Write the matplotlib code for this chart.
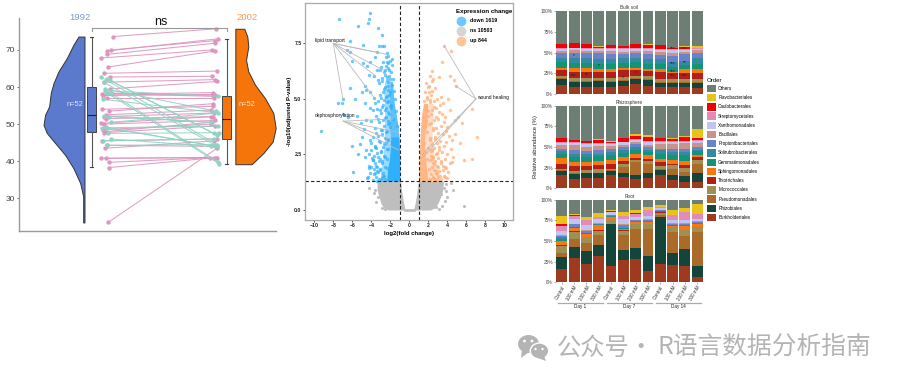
import numpy as np
import matplotlib
matplotlib.use("Agg")
import matplotlib.pyplot as plt
from matplotlib.patches import Ellipse, Patch, Polygon
from matplotlib.lines import Line2D

plt.rcParams["font.family"] = ["Liberation Sans", "DejaVu Sans"]

W, H = 900, 383

# ---- paired raincloud data
left_dens_y = [73.6, 71.4, 67.8, 64.2, 61.0, 58.4, 54.8, 52.5, 49.8, 47.6, 44.9, 41.7, 38.1, 34.1, 30.5, 23.5]
left_dens_w = [0.056, 0.103, 0.165, 0.243, 0.290, 0.315, 0.330, 0.368, 0.383, 0.352, 0.274, 0.181, 0.103, 0.040, 0.012, 0.012]
right_dens_y = [75.7, 73.6, 70.9, 67.3, 64.2, 60.6, 57.0, 53.0, 48.9, 45.3, 42.2, 39.2]
right_dens_w = [0.084, 0.112, 0.121, 0.100, 0.121, 0.184, 0.277, 0.355, 0.377, 0.349, 0.262, 0.153]

pink_x1 = [1.05, 1.03, 0.99, 0.99, 0.93, 1.00, 0.96, 1.02, 0.96, 1.02, 0.94, 0.95, 0.99, 1.04, 0.99, 0.94, 1.01,
           0.98, 0.96, 0.98, 0.93, 0.96, 0.95, 0.98, 0.96, 0.94, 0.97, 0.99, 0.93, 0.98, 1.01, 1.01, 1.00]
pink_y1 = [73.6, 70.0, 69.7, 68.8, 67.8, 65.4, 63.7, 62.7, 61.3, 59.5, 58.0, 57.7, 58.4, 58.2, 57.0, 54.0, 53.5,
           52.5, 52.0, 51.5, 50.2, 50.0, 48.5, 48.0, 47.7, 45.5, 43.5, 44.3, 40.8, 40.8, 39.7, 38.3, 23.5]
pink_x2 = [2.01, 2.00, 2.03, 2.00, 1.97, 2.00, 2.02, 1.97, 2.00, 2.02, 1.98, 1.98, 2.00, 1.98, 1.99, 1.98, 1.98,
           1.96, 1.99, 1.98, 1.96, 2.00, 1.96, 1.97, 2.00, 2.02, 1.99, 2.00, 2.02, 1.95, 1.99, 2.01, 2.02]
pink_y2 = [75.7, 72.5, 73.0, 71.8, 70.0, 69.7, 64.3, 62.9, 62.0, 61.5, 58.5, 58.0, 57.8, 57.5, 57.0, 54.8, 55.5,
           53.8, 53.0, 52.0, 52.0, 51.0, 50.0, 50.5, 49.5, 46.0, 45.5, 44.0, 41.0, 41.0, 41.0, 41.0, 43.5]

green_x1 = [0.93, 0.99, 1.02, 0.96, 0.97, 0.97, 0.99, 1.03, 0.95, 1.03, 0.94, 0.98, 0.99, 1.00, 1.03, 0.95, 0.99, 1.01, 0.96]
green_y1 = [62.8, 62.2, 61.8, 61.3, 59.5, 59.0, 58.5, 58.3, 56.7, 50.5, 49.0, 49.2, 49.0, 47.5, 46.0, 45.5, 44.3, 52.0, 52.3]
green_x2 = [2.02, 2.02, 1.99, 2.02, 2.01, 2.03, 2.04, 2.03, 1.98, 2.03, 2.03, 2.01, 2.02, 2.04, 1.96, 1.99, 1.99, 1.97, 1.96]
green_y2 = [44.5, 47.0, 47.5, 44.0, 53.5, 57.5, 39.3, 39.8, 53.2, 53.0, 49.5, 44.0, 44.0, 47.7, 44.0, 46.0, 44.5, 50.5, 50.5]

# ---- volcano data
down_x = [-7.4, -4.1, -4.25, -5.4, -4.4, -3.3, -2.85, -6.25, -4.85, -3.15, -2.85, -2.65, -6.6, -6.25, -3.45, -2.4, -3.6,
          -4.15, -6.0, -4.85, -4.5, -2.75, -2.4, -1.85, -3.1, -3.45, -2.55, -3.7, -4.3, -3.25, -6.25, -4.65, -4.6, -5.0,
          -4.15, -3.7, -5.7, -6.95, -7.55, -7.05, -4.65, -3.6, -4.15, -3.8, -6.95, -5.55, -6.5, -9.3, -4.6, -4.0, -5.1,
          -4.8, -5.0, -6.0, -5.2, -4.1, -5.4, -5.9, -4.0, -4.6, -3.6, -4.2, -4.65, -3.8, -3.4, -4.0, -3.6, -4.1,
          -2.5, -2.2, -3.0, -2.7, -2.1, -2.4, -2.9, -3.2, -2.2, -2.6, -2.0, -2.3, -2.8, -3.1, -2.5, -2.1, -2.7, -3.3,
          -2.4, -2.0, -2.9, -3.4, -2.6, -2.2, -1.9, -3.0, -3.5, -2.5, -2.8, -2.3, -3.2, -2.7, -2.1, -3.6, -3.0, -2.4,
          -2.9, -3.3, -2.6, -2.2, -3.8, -3.1, -2.5, -2.8, -3.5, -2.3, -3.0, -3.4, -2.7, -3.9, -2.4, -3.2, -2.9, -3.6,
          -2.6, -3.1, -4.3, -3.7, -3.3, -2.8, -3.5, -2.9, -3.2, -2.6, -4.4, -3.8, -3.0, -3.4, -2.7, -2.4, -3.1, -3.7,
          -2.3, -2.0, -1.8, -2.5, -2.2, -1.9, -2.6, -2.1, -1.7, -2.4, -2.9, -1.8, -2.2, -2.7, -1.6, -2.0, -2.4, -3.0,
          -1.5, -2.3, -2.8, -1.9, -2.5, -3.1, -1.4, -2.1, -2.6, -1.7, -3.3, -2.3, -1.3, -2.0, -2.9, -2.5, -3.5, -1.5,
          -2.2, -3.2, -2.7, -3.6, -2.4, -4.0, -3.0, -2.6, -3.3, -3.8, -2.9, -3.5, -4.2, -3.1, -3.7, -2.8, -4.5, -3.4]
down_y = [8.6, 8.85, 8.6, 8.3, 8.4, 8.2, 7.9, 7.6, 7.45, 7.4, 7.4, 7.4, 7.2, 7.1, 7.1, 7.05, 6.9,
          6.65, 6.7, 6.6, 6.5, 6.65, 6.65, 6.8, 6.3, 6.3, 6.3, 6.05, 6.1, 5.85, 5.5, 5.6, 5.4, 5.3,
          5.3, 5.05, 5.0, 5.0, 4.8, 4.8, 4.8, 4.8, 4.6, 4.5, 4.3, 4.25, 4.2, 3.55, 4.05, 4.0, 3.9,
          3.65, 3.3, 2.9, 2.95, 3.15, 2.5, 1.7, 3.0, 2.7, 2.85, 2.5, 2.4, 2.25, 1.95, 1.95, 1.65, 1.65,
          6.9, 6.6, 6.45, 6.2, 6.3, 6.0, 5.95, 5.7, 5.75, 5.55, 5.9, 5.4, 5.3, 5.2, 5.1, 5.2, 4.95, 4.9,
          4.85, 4.7, 4.65, 4.55, 4.5, 4.4, 4.6, 4.35, 4.25, 4.2, 4.05, 4.0, 3.95, 3.8, 3.9, 3.7, 3.6, 3.55,
          3.4, 3.35, 3.25, 3.2, 3.3, 3.05, 3.0, 2.85, 2.8, 2.75, 2.6, 2.55, 2.45, 2.35, 2.3, 2.2, 2.1, 2.1,
          1.95, 1.85, 2.0, 1.85, 1.7, 1.65, 1.5, 1.45, 1.4, 1.4, 1.5, 1.35, 1.35, 1.75, 1.55, 1.9, 2.3, 2.45,
          6.95, 6.7, 6.55, 6.5, 6.4, 6.2, 6.1, 6.05, 5.9, 5.85, 5.8, 5.65, 5.6, 5.45, 5.35, 5.3, 5.15, 5.05,
          5.0, 4.9, 4.75, 4.75, 4.6, 4.5, 4.45, 4.3, 4.15, 4.1, 4.1, 3.85, 3.8, 3.75, 3.6, 3.5, 3.45, 3.15,
          3.15, 3.1, 2.95, 2.9, 2.75, 2.7, 2.65, 2.4, 2.4, 2.25, 2.2, 2.0, 1.9, 1.8, 1.6, 1.55, 1.45, 1.3]
up_x = [3.65, 4.35, 3.4, 4.3, 4.7, 4.9, 3.1, 2.35, 2.2, 2.4, 2.0, 6.55, 7.15, 6.6, 5.5, 4.8, 4.1, 3.3, 3.5, 4.3,
        5.15, 4.8, 3.75, 4.45, 5.3, 5.7, 4.6, 4.3, 3.75, 2.5, 2.1, 2.7, 2.3, 1.9, 2.9, 2.6, 3.2, 2.2, 1.7, 2.8,
        3.1, 2.4, 3.4, 2.0, 3.0, 3.6, 2.6, 2.3, 4.0, 3.3, 2.8, 3.8, 2.5, 3.0, 4.2, 3.5, 2.7, 2.2, 3.2, 3.9,
        2.9, 2.4, 3.6, 2.6, 4.4, 3.1, 2.3, 3.4, 2.8, 4.0, 2.5, 3.0, 3.7, 2.2, 2.7, 4.5, 3.3, 2.9, 3.8, 2.4,
        3.5, 2.6, 3.1, 4.1, 2.8, 2.3, 3.6, 3.0, 2.5, 3.3, 2.7, 2.2, 3.0, 2.5, 2.9, 2.4,
        1.8, 2.1, 1.6, 2.4, 1.9, 2.2, 1.5, 2.6, 1.7, 2.0, 2.3, 1.4, 2.8, 1.8, 2.1, 1.6, 2.5, 1.9, 2.7, 2.2,
        1.5, 3.1, 2.0, 2.4, 1.7, 2.9, 2.3, 3.3, 1.9, 2.6, 3.5, 2.1, 2.8, 3.2, 2.5, 3.7, 2.2, 3.0, 4.0, 2.7]
up_y = [7.4, 7.15, 6.65, 6.05, 5.85, 5.6, 6.0, 6.25, 6.05, 5.8, 5.55, 4.55, 3.3, 2.3, 3.9, 3.4, 5.0, 5.1, 4.8, 4.5,
        4.2, 4.05, 4.2, 3.15, 3.0, 2.25, 2.4, 2.1, 1.95, 5.9, 5.3, 5.5, 5.2, 5.1, 5.0, 4.9, 4.75, 4.85, 4.7, 4.6,
        4.4, 4.5, 4.3, 4.25, 4.1, 3.95, 4.05, 3.9, 3.75, 3.8, 3.7, 3.55, 3.6, 3.45, 3.35, 3.4, 3.3, 3.25, 3.1, 3.05,
        3.0, 2.95, 2.9, 2.8, 2.75, 2.7, 2.65, 2.6, 2.5, 2.5, 2.4, 2.35, 2.3, 2.25, 2.2, 2.15, 2.1, 2.0, 1.9, 1.95,
        1.8, 1.8, 1.75, 1.7, 1.65, 1.6, 1.55, 1.5, 1.5, 1.4, 1.4, 1.35, 1.95, 2.1, 1.6, 2.3,
        5.7, 5.6, 5.3, 5.35, 5.0, 4.95, 4.9, 4.65, 4.55, 4.45, 4.3, 4.2, 4.2, 4.0, 3.85, 3.8, 3.7, 3.5, 3.2, 3.15,
        3.0, 2.85, 2.8, 2.7, 2.6, 2.55, 2.45, 2.2, 2.3, 2.05, 2.0, 1.85, 1.75, 1.55, 1.45, 1.5, 1.4, 1.35, 1.45, 1.3]
ns_x = [5.7, 4.6, 3.7, -4.2, -3.6, -3.3, 3.9, 4.0, 3.4, -3.5, -2.9, 3.1, 3.6, -3.2, 2.8, 3.3, -2.6, 4.4, -3.7, 3.8]
ns_y = [0.2, 0.9, 0.4, 1.0, 0.9, 0.6, 1.15, 0.6, 0.2, 0.35, 0.1, 0.05, 1.0, 1.2, 0.15, 0.7, 0.05, 1.2, 0.75, 0.85]

down_core_y = [1.3, 1.8, 2.3, 2.8, 3.3, 3.8, 4.3, 4.8, 5.3, 5.8]
down_core_l = [-2.4, -2.3, -2.1, -2.0, -2.0, -2.1, -2.0, -2.1, -2.1, -2.0]
down_core_r = [-1.0, -1.0, -1.0, -1.05, -1.1, -1.2, -1.4, -1.6, -1.7, -1.8]
down_halo_l = [-3.1, -3.0, -2.8, -2.7, -2.6, -2.6, -2.6, -2.6, -2.7, -2.6]
up_core_y = [1.3, 1.8, 2.3, 2.8, 3.3, 3.8, 4.3, 4.8]
up_core_l = [1.0, 1.0, 1.05, 1.1, 1.15, 1.2, 1.3, 1.5]
up_core_r = [2.0, 1.8, 1.7, 1.6, 1.6, 1.8, 1.9, 1.9]
up_halo_r = [3.1, 3.0, 2.7, 2.5, 2.4, 2.4, 2.5, 2.5]
ns_core_y = [0.0, 0.1, 0.3, 0.6, 0.9, 1.3]
ns_core_l = [-2.2, -2.7, -3.0, -3.2, -3.4, -3.4]
ns_core_r = [2.2, 2.7, 3.0, 3.3, 3.5, 3.6]
ns_hole_l = [-0.45, -0.5, -0.6, -0.72, -0.82, -0.95]
ns_hole_r = [0.45, 0.5, 0.6, 0.72, 0.82, 0.95]

lipid_to = [(-2.3, 7.0), (-3.45, 7.1), (-2.75, 6.3), (-3.6, 6.05), (-3.6, 5.0), (-7.0, 5.0)]
dephos_to = [(-1.7, 4.1), (-1.15, 3.5), (-1.85, 3.15), (-1.15, 2.7)]
wound_to = [(3.65, 7.4), (4.8, 5.6), (1.45, 2.55), (1.5, 2.4)]

# ---- stacked bars, upper edge of every order in each sample (%)
orders = ["Burkholderiales", "Rhizobiales", "Pseudomonadales", "Micrococcales", "Thiotrichales", "Sphingomonadales",
          "Gemmatimonadales", "Solirubrobacterales", "Propionibacteriales", "Bacillales", "Xanthomonadales",
          "Streptomycetales", "Caulobacterales", "Flavobacteriales", "Others"]
order_cols = ["#9E3B1E", "#15443A", "#A96A2A", "#A08F52", "#B0201A", "#FC760E", "#129479", "#348A9E", "#6882CC",
              "#C99488", "#C0C4F0", "#E08BB8", "#F00000", "#E8C31C", "#6D7F74"]
samples = ["Control", "100 mM", "200 mM", "300 mM"] * 3

bulk_tops = [
    [11, 8.5, 8.5, 9, 9, 10, 12.5, 10.5, 9, 8.5, 8.5, 8],
    [18, 15, 15, 15.5, 15, 16.5, 18.5, 17, 14, 14, 14, 14],
    [19, 16, 16, 17, 16, 17.5, 19.5, 18.5, 15, 15, 15, 15],
    [22, 19, 19, 19.5, 19, 21, 22, 21.5, 18, 18.5, 18, 18],
    [29, 27, 27, 27, 27, 29, 29, 28, 27, 26, 25, 25],
    [32, 32, 32, 30, 30, 32, 32, 30, 30, 27, 30, 30],
    [38.5, 38, 38, 36.5, 36, 38, 38.5, 36, 36, 33, 35, 36],
    [44, 44, 43, 42, 42, 43, 44, 42, 42, 39, 40, 44],
    [49, 50, 49, 49, 48, 48, 49, 48, 47, 46, 48, 50],
    [52, 53, 52, 52, 52, 51, 52, 52, 51, 50, 51, 53],
    [54.5, 55, 54.5, 54.5, 54, 54, 54.5, 54.5, 53, 53, 53, 54.5],
    [55.5, 56, 55.5, 55.5, 55, 55, 55.5, 55.5, 54, 54, 54, 55.5],
    [60, 61.5, 60, 57, 59, 58, 60, 59.5, 59, 56, 57, 56],
    [60, 61.5, 60, 58, 59, 58, 60.5, 60, 59, 56, 58, 58],
]
rhizo_tops = [
    [15.7, 11.7, 12.5, 12.5, 15.7, 13.7, 11.7, 12.5, 15.7, 10, 8, 8],
    [21, 17, 18, 18, 21, 18.5, 16, 19, 22, 16.5, 14.5, 18],
    [22, 18, 18.5, 19, 22, 26, 32, 30, 23, 23, 20, 29],
    [23, 21, 22, 23, 23, 29, 34, 33, 27, 28, 25, 34],
    [30, 27, 27.5, 28, 30, 33, 37, 36, 32, 30, 28, 38],
    [37, 32, 32, 33.5, 34, 37.5, 42, 40, 35, 34, 33, 40],
    [42, 38, 38, 39.5, 40, 43, 46, 44, 42, 40, 40, 45],
    [45.5, 41.5, 41.5, 42, 44, 46, 49.5, 46, 46, 44, 44, 46],
    [48, 46.5, 45.5, 46, 47, 50, 53.5, 50, 47.5, 47.5, 47.5, 50],
    [52, 52.5, 50.5, 51.5, 51.5, 53, 56.5, 52.5, 53.5, 53.5, 54.5, 55],
    [55, 54.5, 53.5, 54, 54, 55.5, 59, 56.5, 56.5, 56.5, 56.5, 57.5],
    [56, 55.5, 54.5, 55, 55, 56.5, 60, 57.5, 57.5, 57.5, 57.5, 58.5],
    [60.5, 58.5, 57, 58.5, 56.5, 60.5, 63.5, 62, 60.5, 60, 62, 61],
    [60.5, 58.5, 57, 60, 57, 61, 66, 64.5, 61.5, 61, 63.5, 72],
]
root_tops = [
    [16, 30, 22, 32, 20, 27, 28, 14, 22, 20.5, 20, 7],
    [31, 43, 38, 45.5, 70, 39.5, 41, 32, 79.5, 36, 40, 20],
    [36, 52, 48, 57, 71, 57, 64.5, 65, 82, 61, 56.5, 61],
    [44, 61, 54.5, 62.5, 75, 62.5, 70, 70.5, 84.5, 67, 63, 67],
    [45, 62, 55, 63, 76, 63, 71, 71, 85, 67.5, 63.5, 67.5],
    [50, 66, 59, 69, 79, 65, 73, 73, 85.5, 68.5, 68, 70],
    [52, 66.5, 59.5, 69.5, 79.5, 65.5, 73.5, 73.5, 86, 69, 68.5, 71],
    [55, 67, 60, 70, 80, 66, 74, 74, 86.5, 69.5, 69, 71.5],
    [56.5, 70, 62, 71, 81, 69, 75, 76, 87, 71, 71, 73],
    [57, 71, 63, 72, 81.5, 70, 75.5, 76.5, 87.5, 72, 72, 74],
    [62, 77, 69, 77, 85, 77, 79, 80, 90, 76, 75, 77],
    [68.5, 80.5, 75.5, 79, 85.5, 80, 83, 87, 91, 81.5, 85, 82.7],
    [70, 81, 76, 79.5, 86, 80.5, 83.5, 87.5, 91.5, 82, 85.5, 83],
    [80, 83, 79.5, 84, 87, 85.5, 87, 91, 93.5, 87, 89.5, 95],
]
star_bar = [1, 1, 2, 3, 5, 6, 9, 9, 9, 9, 10, 10, 10]
star_val = [47, 23, 24, 34, 20, 26, 55, 37, 27, 23, 55, 38, 23]
star_txt = ["*", "***", "**", "*", "*", "*", "***", "***", "***", "***", "***", "**", "***"]


def px_axes(l, t, r, b):
    return fig.add_axes([l / W, 1 - b / H, (r - l) / W, (b - t) / H])


fig = plt.figure(figsize=(W / 100, H / 100), dpi=100)

# ---- raincloud
ax = px_axes(19, 18, 276, 231)
ax.set_xlim(0.168, 2.57)
ax.set_ylim(21.2, 78.6)
ax.patch.set_alpha(0)
base1, base2 = 0.78, 2.19
ax.fill_betweenx(left_dens_y, base1 - np.array(left_dens_w), base1, color="#5C7ACD", ec="#333333", lw=0.7)
ax.fill_betweenx(right_dens_y, base2, base2 + np.array(right_dens_w), color="#F5750A", ec="#333333", lw=0.7)

for i in range(len(pink_y1)):
    ax.plot([pink_x1[i], pink_x2[i]], [pink_y1[i], pink_y2[i]], "-o", color="#DE93BF", lw=0.75, ms=2.2, alpha=0.9)
for i in range(len(green_y1)):
    ax.plot([green_x1[i], green_x2[i]], [green_y1[i], green_y2[i]], "-o", color="#8FD3C1", lw=0.75, ms=2.2, alpha=0.9)

stats1 = dict(med=52.5, q1=48, q3=60, whislo=38.4, whishi=73.6, fliers=[])
stats2 = dict(med=51.3, q1=46, q3=57.6, whislo=39.2, whishi=73.0, fliers=[])
for st, pos, col in [(stats1, 0.848, "#5C7ACD"), (stats2, 2.109, "#F5750A")]:
    ax.bxp([st], positions=[pos], widths=[0.08], patch_artist=True, manage_ticks=False,
           boxprops=dict(facecolor=col, edgecolor="#444444", lw=0.7),
           medianprops=dict(color="#222222", lw=0.8),
           whiskerprops=dict(color="#555555", lw=0.8), capprops=dict(color="#444444", lw=0.8), capwidths=[0.03])

ax.plot([0.848, 0.848, 2.109, 2.109], [75, 76, 76, 75], color="#999999", lw=0.8)
ax.text(1.49, 75.8, "ns", ha="center", va="bottom", fontsize=9, color="#111111", clip_on=False)
ax.text(0.74, 78.6, "1992", ha="center", va="center", fontsize=6.8, color="#7D97D8", clip_on=False)
ax.text(2.3, 78.6, "2002", ha="center", va="center", fontsize=6.8, color="#F59A50", clip_on=False)
ax.text(0.69, 55.4, "n=52", ha="center", va="center", fontsize=5.4, color="#DDE4F5")
ax.text(2.3, 55.4, "n=52", ha="center", va="center", fontsize=5.4, color="#FFE5CC")

ax.set_xticks([])
ax.set_yticks([30, 40, 50, 60, 70])
ax.tick_params(axis="y", labelsize=6, length=1.5, width=0.6, color="#555555", labelcolor="#444444", pad=1.5)
for s in ["top", "right"]:
    ax.spines[s].set_visible(False)
for s in ["left", "bottom"]:
    ax.spines[s].set_color("#999999")
    ax.spines[s].set_linewidth(1.0)

# ---- volcano
ax = px_axes(305, 3, 513, 220)
ax.set_xlim(-10.98, 10.9)
ax.set_ylim(-0.45, 9.32)
blue, orange, grey = "#2FB0FF", "#FFB07A", "#BEBEBE"
ax.fill_betweenx(ns_core_y, ns_core_l, ns_hole_l, color=grey, lw=0)
ax.fill_betweenx(ns_core_y, ns_hole_r, ns_core_r, color=grey, lw=0)
ax.plot([-0.5, 0.5], [0.0, 0.0], color=grey, lw=2)
ax.scatter(ns_x, ns_y, s=5, color=grey, lw=0)
ax.fill_betweenx(down_core_y, down_halo_l, down_core_r, color=blue, alpha=0.45, lw=0)
ax.fill_betweenx(down_core_y[:5], down_core_l[:5], down_core_r[:5], color=blue, lw=0)
ax.fill_betweenx(down_core_y[4:], down_core_l[4:], down_core_r[4:], color=blue, alpha=0.6, lw=0)
ax.fill_betweenx(up_core_y, up_core_l, up_halo_r, color=orange, alpha=0.4, lw=0)
ax.fill_betweenx(up_core_y, up_core_l, up_core_r, color=orange, alpha=0.85, lw=0)
ax.scatter(down_x, down_y, s=6, color=blue, alpha=0.7, lw=0)
ax.scatter(up_x, up_y, s=6, color=orange, alpha=0.75, lw=0)

ax.axvline(-1, color="#222222", lw=0.8, ls=(0, (3, 2)))
ax.axvline(1, color="#222222", lw=0.8, ls=(0, (3, 2)))
ax.axhline(1.3, color="#222222", lw=0.8, ls=(0, (3, 2)))

for px, py in lipid_to:
    ax.plot([-8.0, px], [7.5, py], color="#BBBBBB", lw=0.6)
for px, py in dephos_to:
    ax.plot([-6.95, px], [4.0, py], color="#BBBBBB", lw=0.6)
for px, py in wound_to:
    ax.plot([7.0, px], [5.0, py], color="#BBBBBB", lw=0.6)
ax.text(-8.4, 7.65, "lipid transport", ha="center", va="center", fontsize=3.5, color="#111111")
ax.text(-7.8, 4.25, "dephosphorylation", ha="center", va="center", fontsize=3.5, color="#111111")
ax.text(8.8, 5.05, "wound healing", ha="center", va="center", fontsize=3.5, color="#111111")

ax.set_xticks(np.arange(-10, 11, 2))
ax.set_yticks([0, 2.5, 5, 7.5])
ax.set_yticklabels(["0.0", "2.5", "5.0", "7.5"])
ax.tick_params(labelsize=3.7, length=1.5, width=0.5, pad=1, labelcolor="#222222")
for lbl in ax.get_xticklabels() + ax.get_yticklabels():
    lbl.set_fontweight("bold")
ax.set_xlabel("log2(fold change)", fontsize=4.3, fontweight="bold", labelpad=1.5)
ax.set_ylabel("-log10(adjusted P-value)", fontsize=4.3, fontweight="bold", labelpad=1.5)
for s in ax.spines.values():
    s.set_color("#AAAAAA")
    s.set_linewidth(0.9)
handles = [Line2D([], [], ls="", marker="o", ms=6, color=c, label=t)
           for c, t in [("#6EC8FF", "down 1619"), ("#D5D5D5", "ns 10503"), ("#FFC49A", "up 844")]]
leg = ax.legend(handles=handles, title="Expression change", loc="upper left", bbox_to_anchor=((456 - 305) / 208, 1 - 5.5 / 217),
                frameon=False, fontsize=3.75, title_fontsize=4.4, labelspacing=0.95, handletextpad=0.7, borderpad=0,
                borderaxespad=0, alignment="left", handlelength=2)
leg.get_title().set_fontweight("bold")
for t in leg.get_texts():
    t.set_fontweight("bold")

# ---- stacked bars
panels = [("Bulk soil", bulk_tops, 11, 94.3), ("Rhizosphere", rhizo_tops, 105.7, 188.3), ("Root", root_tops, 199.7, 282.3)]
pos = np.arange(12)
for n, (title, tops, t, b) in enumerate(panels):
    ax = px_axes(555.7, t, 703.3, b)
    bottom = np.zeros(12)
    for k, row in enumerate(tops + [[100] * 12]):
        top = np.array(row, dtype=float)
        ax.bar(pos, top - bottom, bottom=bottom, width=0.88, color=order_cols[k], lw=0)
        bottom = top
    ax.set_xlim(-0.5, 11.5)
    ax.set_ylim(0, 100)
    ax.set_yticks([0, 25, 50, 75, 100])
    ax.set_yticklabels(["0%", "25%", "50%", "75%", "100%"])
    ax.tick_params(axis="y", labelsize=3.4, length=1.2, width=0.4, pad=0.8, labelcolor="#444444", color="#666666")
    ax.set_title(title, fontsize=3.4, pad=1.2, color="#333333")
    for s in ax.spines.values():
        s.set_visible(False)
    if n == 0:
        for bi, sv, st in zip(star_bar, star_val, star_txt):
            ax.text(bi, sv, st, ha="center", va="center", fontsize=3.5, color="#222222")
    if n == 1:
        ax.set_ylabel("Relative abundance (%)", fontsize=4.2, labelpad=2, color="#222222")
    if n < 2:
        ax.set_xticks([])
    else:
        ax.set_xticks(pos)
        ax.set_xticklabels(samples, rotation=60, ha="right", rotation_mode="anchor", fontsize=3.3, color="#333333")
        ax.tick_params(axis="x", length=1.2, width=0.4, pad=0.6, color="#666666")
        for g, day in enumerate(["Day 1", "Day 7", "Day 14"]):
            ax.plot([g * 4 - 0.35, g * 4 + 3.35], [-24.7, -24.7], color="#AAAAAA", lw=0.9, clip_on=False)
            ax.text(g * 4 + 1.5, -29, day, ha="center", va="center", fontsize=3.3, color="#222222", clip_on=False)

legend_handles = [Patch(facecolor=c, label=o) for o, c in zip(orders[::-1], order_cols[::-1])]
fig.legend(handles=legend_handles, title="Order", loc="upper left", bbox_to_anchor=(707 / W, 1 - 78 / H), frameon=False,
           fontsize=3.3, title_fontsize=4.4, labelspacing=0.4, handlelength=1.95, handleheight=2.1,
           handletextpad=0.5, borderpad=0, borderaxespad=0, alignment="left")

# ---- watermark
over = fig.add_axes([0, 0, 1, 1], zorder=5)
over.set_xlim(0, W)
over.set_ylim(H, 0)
over.axis("off")
wm = "#B4B4B4"
over.add_patch(Ellipse((528.5, 344), 21, 18, color=wm, lw=0))
over.add_patch(Polygon([(522, 350), (521, 358), (529, 352)], color=wm, lw=0))
over.add_patch(Ellipse((539.5, 351), 18.5, 16, color=wm, ec="white", lw=1))
over.add_patch(Polygon([(544, 356), (546, 361), (538, 358)], color=wm, lw=0))
for ex, ey, er in [(524.5, 341, 1.4), (532, 341, 1.4), (535.5, 349, 1.2), (542.5, 349, 1.2)]:
    over.add_patch(Ellipse((ex, ey), 2 * er, 2 * er, color="white", lw=0))
cjk = ["Noto Sans CJK SC", "DejaVu Sans"]
over.text(557, 348, "公众号", fontsize=17.5, color=wm, va="center", ha="left", family=cjk)
over.text(640.5, 348, "·", fontsize=17.5, color=wm, va="center", ha="center", family=cjk)
over.text(658, 348, "R语言数据分析指南", fontsize=17.8, color=wm, va="center", ha="left", family=cjk)

fig.savefig("out.png", dpi=100)
